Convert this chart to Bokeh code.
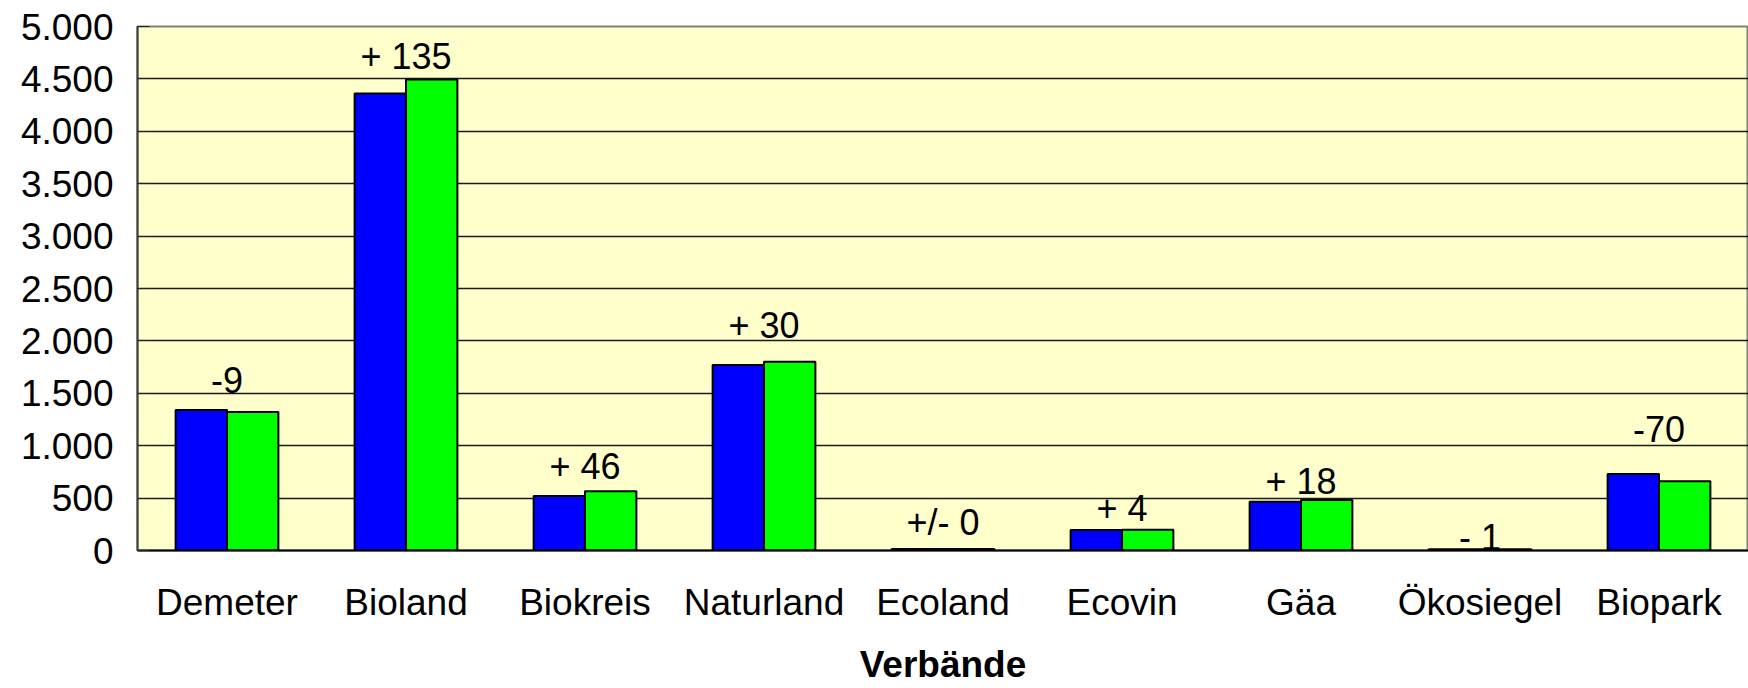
from bokeh.plotting import figure
from bokeh.models import ColumnDataSource, FactorRange, Range1d, FixedTicker
from bokeh.transform import dodge
from bokeh.core.properties import value
from bokeh.embed import file_html
from bokeh.resources import INLINE

categories = ["Demeter", "Bioland", "Biokreis", "Naturland", "Ecoland",
              "Ecovin", "Gäa", "Ökosiegel", "Biopark"]
series_a = [1340, 4360, 520, 1770, 15, 195, 465, 12, 730]
series_b = [1322, 4495, 566, 1800, 15, 199, 483, 11, 660]
change_labels = ["-9", "+ 135", "+ 46", "+ 30", "+/- 0", "+ 4", "+ 18", "- 1", "-70"]
label_y = [1628, 4713, 798, 2149, 266, 404, 660, 128, 1160]
y_ticks = [0, 500, 1000, 1500, 2000, 2500, 3000, 3500, 4000, 4500, 5000]
y_tick_labels = ["0", "500", "1.000", "1.500", "2.000", "2.500", "3.000",
                 "3.500", "4.000", "4.500", "5.000"]
x_title = "Verbände"

FONT = "Liberation Sans"

src = ColumnDataSource(dict(cat=categories, a=series_a, b=series_b))
lsrc = ColumnDataSource(dict(cat=categories, y=label_y, t=change_labels))

p = figure(width=1748, height=688, output_backend="svg", toolbar_location=None,
           x_range=FactorRange(*categories), y_range=Range1d(0, 5000),
           min_border_left=137, min_border_right=0, min_border_top=26,
           min_border_bottom=138)

p.border_fill_color = "white"
p.background_fill_color = "#FFFFCC"
p.outline_line_color = "#808080"
p.outline_line_width = 2

p.vbar(x=dodge("cat", -0.1435, range=p.x_range), top="a", width=0.287, source=src,
       fill_color="#0000FF", line_color="black", line_width=2)
p.vbar(x=dodge("cat", 0.1435, range=p.x_range), top="b", width=0.287, source=src,
       fill_color="#00FF00", line_color="black", line_width=2)

p.text(x="cat", y="y", text="t", source=lsrc, text_align="center",
       text_baseline="middle", text_font=value(FONT), text_font_size="36px",
       text_color="black")

# grid
p.xgrid.grid_line_color = None
p.ygrid.ticker = FixedTicker(ticks=y_ticks[1:-1])
p.ygrid.grid_line_color = "#1a1a1a"
p.ygrid.grid_line_width = 1.5

# y axis
p.yaxis.ticker = FixedTicker(ticks=y_ticks)
p.yaxis.major_label_overrides = {t: l for t, l in zip(y_ticks, y_tick_labels)}
p.yaxis.major_label_text_font = FONT
p.yaxis.major_label_text_font_size = "37px"
p.yaxis.major_label_text_color = "black"
p.yaxis.major_label_standoff = 24
p.yaxis.major_tick_out = 0
p.yaxis.major_tick_in = 12
p.yaxis.major_tick_line_color = "#222222"
p.yaxis.minor_tick_line_color = None
p.yaxis.axis_line_color = "#404040"
p.yaxis.axis_line_width = 2

# x axis
p.xaxis.major_label_text_font = FONT
p.xaxis.major_label_text_font_size = "37px"
p.xaxis.major_label_text_color = "black"
p.xaxis.major_label_standoff = 25
p.xaxis.major_tick_line_color = None
p.xaxis.minor_tick_line_color = None
p.xaxis.axis_line_color = "black"
p.xaxis.axis_line_width = 2
p.xaxis.axis_label = x_title
p.xaxis.axis_label_text_font = FONT
p.xaxis.axis_label_text_font_size = "37px"
p.xaxis.axis_label_text_font_style = "bold"
p.xaxis.axis_label_text_color = "black"
p.xaxis.axis_label_standoff = 18

open("out.html", "w").write(file_html(p, INLINE))
